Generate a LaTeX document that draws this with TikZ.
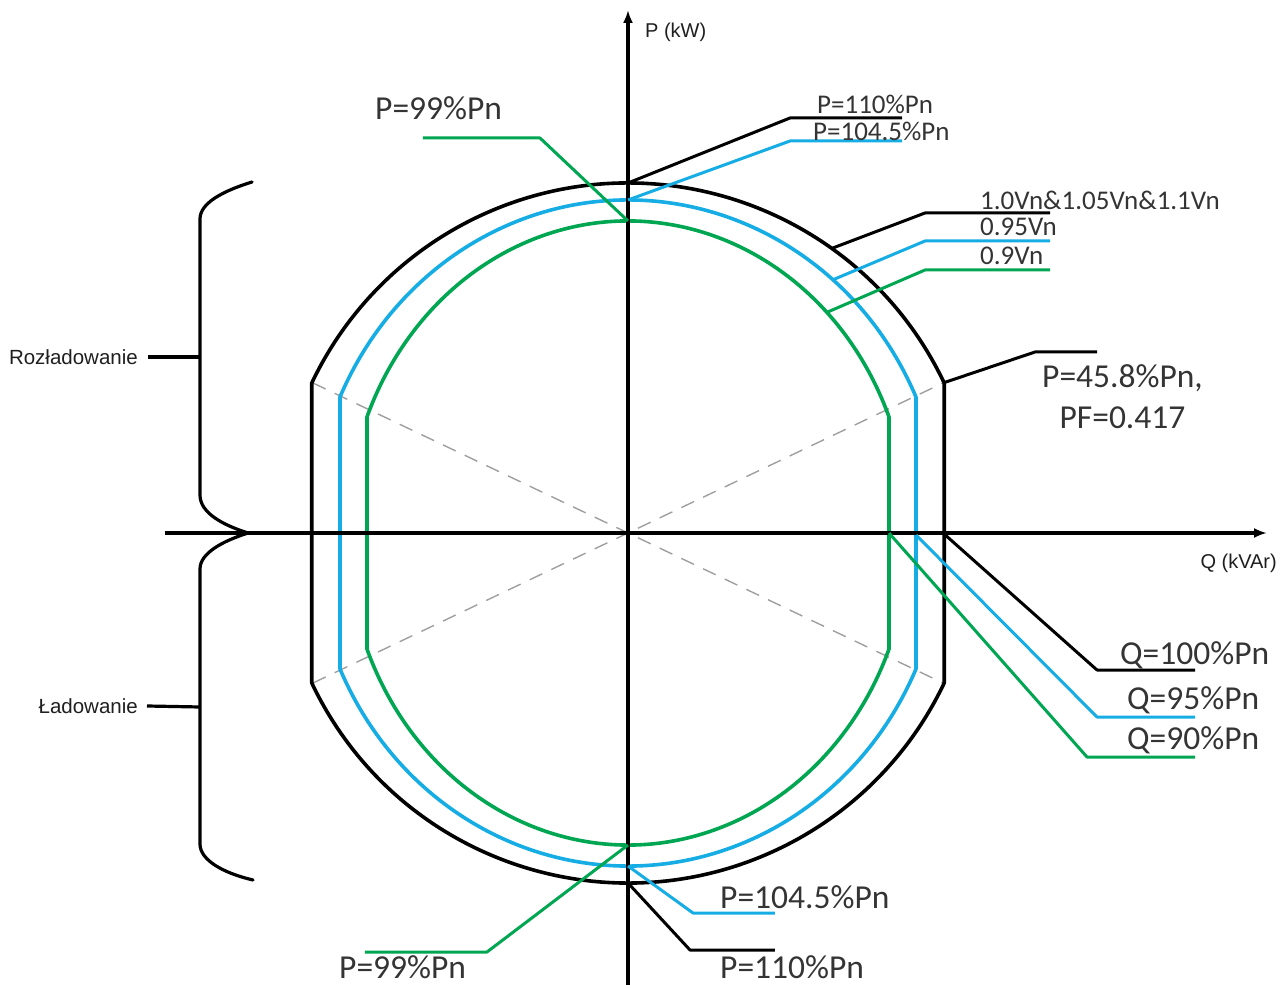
\documentclass[tikz,border=0pt]{standalone}
\usepackage{fontspec}
\setmainfont{Carlito}
\newfontfamily\arialf{Liberation Sans}
\usetikzlibrary{arrows.meta}
\definecolor{cblue}{RGB}{22,172,228}
\definecolor{cgreen}{RGB}{0,166,82}
\definecolor{ctext}{RGB}{52,52,52}
\begin{document}
\begin{tikzpicture}[x=1pt,y=1pt,
  curve/.style={line width=3.6pt, line join=round},
  lead/.style={line width=3pt, line join=round},
  lbig/.style={font=\fontsize{33.5}{41}\selectfont, text=ctext, inner sep=0pt},
  lsmall/.style={font=\fontsize{27}{32}\selectfont, text=ctext, inner sep=0pt},
  lsans/.style={font=\arialf\fontsize{20}{24}\selectfont, text=black!88, inner sep=0pt},
  axisline/.style={line width=3.6pt, -{Latex[length=13pt,width=10pt]}},
  guide/.style={line width=1.4pt, gray!75, dash pattern=on 14pt off 10pt},
  bracket/.style={line width=3.2pt, line join=round, line cap=round}
]
\useasboundingbox (-628,-455) rectangle (658,533);

% --- key coordinates on the curves
\coordinate (O) at (0,0);
\coordinate (bTR) at (315,150);  \coordinate (bTL) at (-315,150);
\coordinate (bBR) at (315,-150); \coordinate (bBL) at (-315,-150);

% --- dashed guide lines through the origin
\draw[guide] (bTL) -- (O) -- (bBR);
\draw[guide] (bBL) -- (O) -- (bTR);

% --- capability curves
\draw[curve, black] (25.38:350 and 350) arc[start angle=25.38, end angle=154.62, radius=350]
  -- (205.38:350 and 350) arc[start angle=205.38, end angle=334.62, radius=350] -- cycle;
\draw[curve, cblue] (24.11:315.5 and 333) arc[start angle=24.11, end angle=155.89, x radius=315.5, y radius=333]
  -- (204.11:315.5 and 333) arc[start angle=204.11, end angle=335.89, x radius=315.5, y radius=333] -- cycle;
\draw[curve, cgreen] (21.83:281.2 and 312) arc[start angle=21.83, end angle=158.17, x radius=281.2, y radius=312]
  -- (201.83:281.2 and 312) arc[start angle=201.83, end angle=338.17, x radius=281.2, y radius=312] -- cycle;

% --- axes
\coordinate (vS) at (0,-452); \coordinate (vE) at (0,523);
\coordinate (hS) at (-463,0); \coordinate (hE) at (639,0);
\draw[axisline] (vS) -- (vE);
\draw[axisline] (hS) -- (hE);
\node[lsans, anchor=west] (pkw) at (17,501) {P (kW)};
\node[lsans, anchor=east] (qkvar) at (649,-30) {Q (kVAr)};

% --- top P labels
\coordinate (bTop) at (0,350); \coordinate (uTop) at (0,333); \coordinate (gTop) at (0,312);
\coordinate (k110a) at (162,415); \coordinate (e110a) at (274,415);
\coordinate (k104a) at (162,392); \coordinate (e104a) at (274,392);
\coordinate (k99a) at (-88,395);  \coordinate (e99a) at (-205,395);
\draw[lead, black] (bTop) -- (k110a) -- (e110a);
\draw[lead, cblue] (uTop) -- (k104a) -- (e104a);
\draw[lead, cgreen] (gTop) -- (k99a) -- (e99a);
\node[lsmall, anchor=west] (t110a) at (189,429) {P=110\%Pn};
\node[lsmall, anchor=west] (t104a) at (185,402) {P=104.5\%Pn};
\node[lbig, anchor=west] (t99a) at (-253,425) {P=99\%Pn};

% --- voltage labels
\coordinate (bV) at (54.4:350 and 350);
\coordinate (uV) at (49.5:315.5 and 333);
\coordinate (gV) at (45:281.2 and 312);
\coordinate (kV1) at (297,320); \coordinate (eV1) at (422,320);
\coordinate (kV2) at (297,292); \coordinate (eV2) at (422,292);
\coordinate (kV3) at (297,263); \coordinate (eV3) at (422,263);
\draw[lead, black] (bV) -- (kV1) -- (eV1);
\draw[lead, cblue] (uV) -- (kV2) -- (eV2);
\draw[lead, cgreen] (gV) -- (kV3) -- (eV3);
\node[lsmall, anchor=west] (tV1) at (352,333) {1.0Vn\&1.05Vn\&1.1Vn};
\node[lsmall, anchor=west] (tV2) at (352,306) {0.95Vn};
\node[lsmall, anchor=west] (tV3) at (352,277) {0.9Vn};

% --- P=45.8% label
\coordinate (kPF) at (407,181); \coordinate (ePF) at (469,181);
\draw[lead, black] (bTR) -- (kPF) -- (ePF);
\node[lbig, align=center] (tPF) at (494.5,136.5) {P=45.8\%Pn,\\PF=0.417};

% --- Q labels
\coordinate (bQ) at (315,0); \coordinate (uQ) at (288,-2); \coordinate (gQ) at (261,0);
\coordinate (kQ1) at (469,-137); \coordinate (eQ1) at (567,-137);
\coordinate (kQ2) at (469,-184); \coordinate (eQ2) at (567,-184);
\coordinate (kQ3) at (459,-224); \coordinate (eQ3) at (567,-224);
\draw[lead, black] (bQ) -- (kQ1) -- (eQ1);
\draw[lead, cblue] (uQ) -- (kQ2) -- (eQ2);
\draw[lead, cgreen] (gQ) -- (kQ3) -- (eQ3);
\node[lbig, anchor=west] (tQ1) at (492,-122) {Q=100\%Pn};
\node[lbig, anchor=west] (tQ2) at (499,-167) {Q=95\%Pn};
\node[lbig, anchor=west] (tQ3) at (499,-207) {Q=90\%Pn};

% --- bottom P labels
\coordinate (bBot) at (0,-350); \coordinate (uBot) at (0,-333); \coordinate (gBot) at (0,-312);
\coordinate (k104b) at (65,-380);  \coordinate (e104b) at (147,-380);
\coordinate (k110b) at (62,-417);  \coordinate (e110b) at (147,-417);
\coordinate (k99b) at (-141,-419); \coordinate (e99b) at (-263,-419);
\draw[lead, cblue] (uBot) -- (k104b) -- (e104b);
\draw[lead, black] (bBot) -- (k110b) -- (e110b);
\draw[lead, cgreen] (gBot) -- (k99b) -- (e99b);
\node[lbig, anchor=west] (t104b) at (92,-364) {P=104.5\%Pn};
\node[lbig, anchor=west] (t110b) at (92,-434) {P=110\%Pn};
\node[lbig, anchor=west] (t99b) at (-289,-434) {P=99\%Pn};

% --- braces
\coordinate (brTip) at (-380,0);
\coordinate (brU) at (-376,351);
\coordinate (brL) at (-375,-347);
\draw[bracket] (brU) .. controls (-405,342) and (-428,330) .. (-428,314)
  -- (-428,38) .. controls (-428,20) and (-405,8) .. (brTip);
\draw[bracket] (brTip) .. controls (-405,-8) and (-428,-20) .. (-428,-36)
  -- (-428,-311) .. controls (-428,-327) and (-405,-340) .. (brL);
\coordinate (mU) at (-428,176); \coordinate (mL) at (-428,-174);
\node[lsans, anchor=east, font=\arialf\fontsize{20.5}{24}\selectfont] (roz) at (-490,176) {Rozładowanie};
\node[lsans, anchor=east, font=\arialf\fontsize{20.5}{24}\selectfont] (lad) at (-490,-173) {Ładowanie};
\draw[line width=3.2pt] (roz.east) ++(10,0) coordinate (rozE) -- (mU);
\draw[line width=3.2pt] (lad.east) ++(9,0) coordinate (ladE) -- (mL);
\end{tikzpicture}
\end{document}
